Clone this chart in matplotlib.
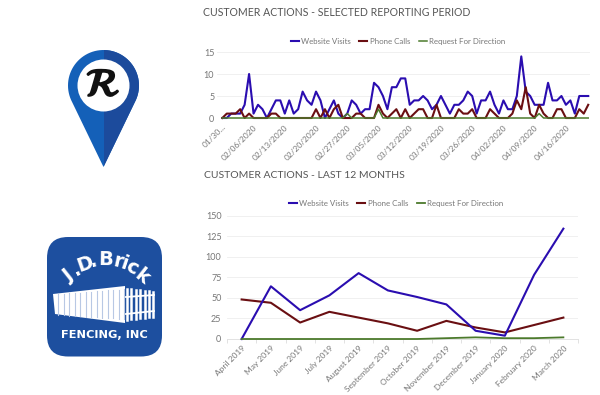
import numpy as np
import matplotlib
matplotlib.use("Agg")
import matplotlib.pyplot as plt
import matplotlib.patheffects as pe
from matplotlib.patches import Circle, FancyBboxPatch, Polygon, Rectangle

# top chart data, one value per day
web_daily = [0, 0, 1, 1, 1, 3, 10, 1, 3, 2, 0, 2, 4, 4, 1, 4, 1, 2, 6, 4, 3, 6, 4, 0, 2, 4, 1, 0, 1, 4, 3, 1, 2, 2,
             8, 7, 5, 2, 7, 7, 9, 9, 3, 4, 4, 5, 4, 2, 3, 5, 3, 1, 3, 3, 4, 6, 5, 1, 4, 4, 6, 3, 1, 4, 2, 2, 5,
             14, 6, 5, 3, 3, 3, 8, 4, 4, 5, 3, 4, 1, 5, 5, 5]
phone_daily = [0, 1, 1, 1, 2, 0, 1, 0, 0, 0, 0, 1, 1, 0, 0, 0, 0, 0, 0, 0, 0, 2, 0, 2, 0, 2, 3, 0, 0, 0, 1, 1, 0, 0,
               0, 3, 1, 0, 1, 2, 0, 2, 0, 1, 2, 2, 0, 0, 3, 0, 0, 0, 0, 2, 1, 1, 2, 0, 0, 0, 2, 1, 0, 0, 0, 1, 4,
               2, 7, 1, 0, 3, 1, 0, 0, 2, 2, 0, 0, 0, 2, 1, 3]
req_daily = [0, 0, 0, 0, 0, 0, 0, 0, 0, 0, 0, 0, 0, 0, 0, 0, 0, 0, 0, 0, 0, 0, 0, 0, 0, 0, 0, 0, 1, 0, 0, 0, 0, 0,
             0, 2, 0, 0, 0, 0, 0, 0, 0, 0, 0, 0, 0, 0, 0, 0, 0, 0, 0, 0, 0, 0, 0, 0, 0, 0, 0, 0, 0, 0, 0, 0, 0,
             0, 0, 0, 0, 1, 0, 0, 0, 0, 0, 0, 0, 0, 0, 0, 0]
daily_labels = ["01/30...", "02/06/2020", "02/13/2020", "02/20/2020", "02/27/2020", "03/05/2020",
                "03/12/2020", "03/19/2020", "03/26/2020", "04/02/2020", "04/09/2020", "04/16/2020"]

# bottom chart data
months = ["April 2019", "May 2019", "June 2019", "July 2019", "August 2019", "September 2019", "October 2019",
          "November 2019", "December 2019", "January 2020", "February 2020", "March 2020"]
web_monthly = [0, 64, 35, 53, 80, 59, 51, 42, 10, 4, 78, 134]
phone_monthly = [48, 44, 20, 33, 26, 19, 10, 22, 14, 8, 17, 26]
req_monthly = [0, 0, 0, 0, 0, 0, 0, 1, 2, 1, 1, 2]

W, H = 600, 395
BLUE = "#2a0db0"
RED = "#6a0f12"
GREEN = "#4c7a2c"
plt.rcParams["font.family"] = ["Lato", "DejaVu Sans"]


def axes_px(fig, left, top, right, bottom):
    return fig.add_axes([left / W, 1 - bottom / H, (right - left) / W, (bottom - top) / H])


def style_axes(ax, ypad, xpad):
    for s in ["top", "right", "left"]:
        ax.spines[s].set_visible(False)
    ax.spines["bottom"].set_color("#dddddd")
    ax.spines["bottom"].set_linewidth(0.6)
    ax.grid(axis="y", color="#eeeeee", lw=0.6)
    ax.set_axisbelow(True)
    ax.tick_params(axis="y", length=0, labelsize=6.5, labelcolor="#777777", pad=ypad)
    ax.tick_params(axis="x", length=0, labelsize=6.0, labelcolor="#777777", pad=xpad)


def add_legend(ax, x_center, y_top):
    ax.legend(loc="upper center", bbox_to_anchor=(x_center, y_top), ncol=3, frameon=False, fontsize=5.7,
              labelcolor="#777777", handlelength=1.0, handletextpad=0.3, columnspacing=1.1, borderpad=0)


fig = plt.figure(figsize=(W / 100, H / 100), dpi=100)
fig.patch.set_facecolor("white")

# logos, drawn in pixel coordinates
bg = fig.add_axes([0, 0, 1, 1])
bg.set_xlim(0, W)
bg.set_ylim(H, 0)
bg.axis("off")

# pin
pin_t = np.radians(np.linspace(208, -28, 60))
pin_x = 103.5 + 35.5 * np.cos(pin_t)
pin_y = 85.5 - 35.5 * np.sin(pin_t)
outline = list(zip(pin_x, pin_y)) + [(103.5, 167)]
bg.add_patch(Polygon(outline, closed=True, fc="#1460b8", ec="none"))
clip = Rectangle((103.5, 40), 40, 130, transform=bg.transData)
right_half = Polygon(outline, closed=True, fc="#1c4b9c", ec="none")
bg.add_patch(right_half)
right_half.set_clip_path(clip)
bg.add_patch(Circle((103.5, 85.5), 26, fc="white", ec="none"))
bg.text(103, 85, r"$\mathcal{R}$", fontsize=28, math_fontfamily="stix", color="#111111", ha="center", va="center",
        path_effects=[pe.withStroke(linewidth=1.6, foreground="#111111")])

# fencing logo
LOGO_BLUE = "#1d4f9f"
NARROW = "Liberation Sans Narrow"
bg.add_patch(FancyBboxPatch((47, 237), 115, 119.5, boxstyle="round,pad=0,rounding_size=21", fc=LOGO_BLUE, ec="none"))
brick_chars = "J.D.Brick"
brick_angles = [-48, -35, -24, -13, 1, 15, 23, 33, 48]
for ch, a in zip(brick_chars, brick_angles):
    r = np.radians(a)
    bg.text(105 + 50 * np.sin(r), 310 - 50 * np.cos(r), ch, fontsize=14, fontweight="bold", color="white",
            rotation=-a * 0.8, ha="center", va="center", family=NARROW)
bg.add_patch(Polygon([(53, 294), (125, 286), (125, 323), (55, 314)], closed=True, fc="white", ec="none"))
for fx in np.arange(58, 125, 5.5):
    bg.plot([fx, fx], [289 + (125 - fx) * 0.08, 319 - (125 - fx) * 0.06], color="#b8c8e4", lw=0.8)
for fx in np.arange(127, 156, 4.4):
    bg.plot([fx, fx], [289 + (fx - 127) * 0.1, 320 - (fx - 127) * 0.12], color="white", lw=1.8)
bg.plot([126, 154], [297, 295], color="white", lw=1.3)
bg.plot([126, 154], [314, 311], color="white", lw=1.3)
bg.text(104.5, 335, "FENCING, INC", fontsize=8.2, fontweight="bold", color="white", ha="center", va="center",
        family=NARROW)

# titles
fig.text(203 / W, 1 - 13 / H, "CUSTOMER ACTIONS - SELECTED REPORTING PERIOD", fontsize=7.6, color="#555555", va="center")
fig.text(204 / W, 1 - 176 / H, "CUSTOMER ACTIONS - LAST 12 MONTHS", fontsize=7.5, color="#555555", va="center")

# top chart
ax1 = axes_px(fig, 217, 52, 590, 118)
days = np.arange(len(web_daily))
ax1.plot(days, web_daily, color=BLUE, lw=1.5, label="Website Visits", zorder=3, clip_on=False)
ax1.plot(days, phone_daily, color=RED, lw=1.5, label="Phone Calls", zorder=4, clip_on=False)
ax1.plot(days, req_daily, color=GREEN, lw=1.1, label="Request For Direction", zorder=5, clip_on=False)
ax1.set_xlim(-1.19, 82.4)
ax1.set_ylim(0, 15)
ax1.set_yticks([0, 5, 10, 15])
ax1.set_xticks(days[::7])
ax1.set_xticklabels(daily_labels, rotation=45, ha="right", rotation_mode="anchor")
style_axes(ax1, 2, 4)
ax1.spines["bottom"].set_visible(False)
add_legend(ax1, (398 - 217) / 373, 1.27)

# bottom chart
ax2 = axes_px(fig, 227, 215.5, 578, 339)
pos = np.arange(len(months))
ax2.plot(pos, web_monthly, color=BLUE, lw=1.5, label="Website Visits", zorder=3, clip_on=False)
ax2.plot(pos, phone_monthly, color=RED, lw=1.5, label="Phone Calls", zorder=2, clip_on=False)
ax2.plot(pos, req_monthly, color=GREEN, lw=1.3, label="Request For Direction", zorder=4, clip_on=False)
ax2.set_xlim(-0.5, 11.5)
ax2.set_ylim(0, 150)
ax2.set_yticks(range(0, 151, 25))
ax2.set_xticks(pos)
ax2.set_xticklabels(months, rotation=45, ha="right", rotation_mode="anchor")
ax2.set_xticks(np.arange(-0.5, 12, 1), minor=True)
ax2.tick_params(axis="x", which="minor", length=3, color="#dddddd", width=0.6)
style_axes(ax2, 4, 4)
add_legend(ax2, (396 - 227) / 351, 1.16)

fig.savefig("out.png", dpi=100)
